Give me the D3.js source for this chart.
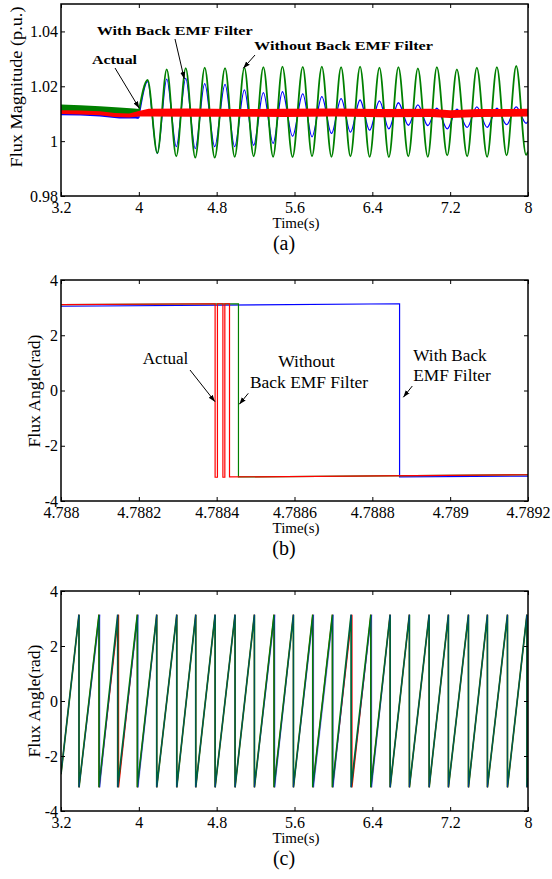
<!DOCTYPE html>
<html>
<head>
<meta charset="utf-8">
<script src="https://cdn.jsdelivr.net/npm/d3@7/dist/d3.min.js"></script>
<style>
  body { margin: 0; background: #fff; }
  svg text { font-family: "Liberation Serif", "Times New Roman", serif; fill: #000; }
</style>
</head>
<body>
<svg id="chart" width="552" height="879"></svg>
<script>
// ---- panel (a): flux magnitude ----
var timeTicks = [3.2, 4, 4.8, 5.6, 6.4, 7.2, 8];
var timeLabels = ["3.2", "4", "4.8", "5.6", "6.4", "7.2", "8"];
var magTicks = [0.98, 1, 1.02, 1.04];
var magLabels = ["0.98", "1", "1.02", "1.04"];

var peakTimes = [4.09, 4.287, 4.482, 4.677, 4.886, 5.085, 5.28, 5.476, 5.685, 5.881,
                 6.079, 6.274, 6.473, 6.668, 6.868, 7.063, 7.269, 7.474, 7.68, 7.879];
var troughTimes = [4.19, 4.385, 4.58, 4.78, 4.985, 5.18, 5.38, 5.58, 5.78, 5.98,
                   6.175, 6.372, 6.57, 6.77, 6.97, 7.17, 7.375, 7.58, 7.78, 7.98];
var greenPeaks = [1.0223, 1.0262, 1.0266, 1.0268, 1.0266, 1.0268, 1.027, 1.0272, 1.0271, 1.0272,
                  1.027, 1.0272, 1.0268, 1.027, 1.0265, 1.027, 1.0262, 1.0268, 1.027, 1.0274];
var greenTroughs = [0.9956, 0.9945, 0.994, 0.994, 0.9943, 0.9945, 0.9943, 0.9942, 0.9945, 0.9943,
                    0.9945, 0.9943, 0.9942, 0.9945, 0.9943, 0.9948, 0.9945, 0.9943, 0.9948, 0.995];
var bluePeaks = [1.0217, 1.0226, 1.0229, 1.021, 1.0207, 1.0187, 1.0177, 1.018, 1.0172, 1.0162,
                 1.0155, 1.015, 1.0147, 1.014, 1.0132, 1.012, 1.0117, 1.0125, 1.012, 1.0125];
var blueTroughs = [0.9955, 0.998, 0.9973, 0.998, 0.998, 0.9985, 0.9992, 1.0018, 1.0016, 1.0028,
                   1.0033, 1.004, 1.0045, 1.0058, 1.0057, 1.0045, 1.005, 1.005, 1.006, 1.0065];

// before the step at t = 4 s
var preTimes = [3.2, 3.4, 3.6, 3.8, 3.95, 4.0];
var greenPreHi = [1.0134, 1.0131, 1.0127, 1.0123, 1.0119, 1.0117];
var greenPreLo = [1.0106, 1.0104, 1.0101, 1.0099, 1.0097, 1.0099];
var bluePre = [1.0099, 1.0098, 1.0094, 1.0087, 1.0088, 1.0085];

// red (actual) noisy band
var redTimes = [3.2, 3.4, 3.6, 3.75, 3.9, 4.0, 4.1, 4.5, 5, 5.5, 6, 6.5, 7, 7.2, 7.5, 8];
var redHi = [1.0113, 1.0112, 1.0109, 1.0103, 1.0101, 1.011, 1.0118, 1.0119, 1.0117, 1.0118, 1.0119, 1.0117, 1.0118, 1.0113, 1.0117, 1.0118];
var redLo = [1.0099, 1.0097, 1.0094, 1.0088, 1.0086, 1.009, 1.009, 1.0089, 1.0089, 1.0088, 1.009, 1.0087, 1.0088, 1.0084, 1.0088, 1.009];

// ---- panel (b): zoom on one wrap ----
var zoomTicks = [4.788, 4.7882, 4.7884, 4.7886, 4.7888, 4.789, 4.7892];
var zoomLabels = ["4.788", "4.7882", "4.7884", "4.7886", "4.7888", "4.789", "4.7892"];
var angleTicks = [-4, -2, 0, 2, 4];
var angleLabels = ["-4", "-2", "0", "2", "4"];

var redZoomT = [4.788, 4.788396, 4.788396, 4.788402, 4.788402, 4.788416, 4.788416, 4.788421, 4.788421, 4.788433, 4.788433, 4.7892];
var redZoomV = [3.11, 3.14, -3.14, -3.14, 3.14, 3.14, -3.14, -3.14, 3.14, 3.14, -3.13, -3.05];
var greenZoomT = [4.788, 4.788456, 4.788456, 4.7892];
var greenZoomV = [3.11, 3.14, -3.13, -3.05];
var blueZoomT = [4.788, 4.78887, 4.78887, 4.7892];
var blueZoomV = [3.05, 3.14, -3.13, -3.1];

// ---- panel (c): wrapped angle ----
var greenWraps = [3.385, 3.591, 3.783, 3.985, 4.184, 4.39, 4.585, 4.784, 4.989, 5.188, 5.39, 5.589,
                  5.788, 5.99, 6.182, 6.385, 6.583, 6.781, 6.984, 7.182, 7.388, 7.583, 7.789, 7.989];
var blueWraps = [3.385, 3.6, 3.783, 3.994, 4.184, 4.39, 4.585, 4.784, 4.989, 5.188, 5.399, 5.589,
                 5.797, 5.999, 6.182, 6.394, 6.583, 6.781, 6.984, 7.182, 7.388, 7.583, 7.789, 7.989];
var redWraps = [3.385, 3.591, 3.792, 3.985, 4.184, 4.39, 4.585, 4.784, 4.989, 5.188, 5.39, 5.589,
                5.788, 5.99, 6.191, 6.385, 6.583, 6.781, 6.984, 7.182, 7.388, 7.583, 7.789, 7.989];
var angleStart = -2.66, angleEnd = -2.8, angleMax = 3.14;

var RED = "#ff0000", GREEN = "#008000", BLUE = "#0000ff";

var svg = d3.select("#chart");
svg.append("rect").attr("width", 552).attr("height", 879).attr("fill", "#fff");

var defs = svg.append("defs");
defs.append("marker").attr("id", "arr")
  .attr("viewBox", "0 0 10 10").attr("refX", 10).attr("refY", 5)
  .attr("markerWidth", 7).attr("markerHeight", 7).attr("orient", "auto")
  .append("path").attr("d", "M0,1.5L10,5L0,8.5Z").attr("fill", "#000");

function zip(a, b) { return a.map(function(d, i) { return [d, b[i]]; }); }

function wrapSeries(wraps, start, end) {
  var pts = [[3.2, start]];
  wraps.forEach(function(w) { pts.push([w, angleMax], [w, -angleMax]); });
  pts.push([8, end]);
  return pts;
}

function oscSeries(startV, peaks, troughs, endV) {
  var pts = [[4.0, startV]];
  peakTimes.forEach(function(t, i) {
    pts.push([t, peaks[i]]);
    pts.push([troughTimes[i], troughs[i]]);
  });
  pts.push([8, endV]);
  return pts;
}

function panel(opt) {
  var x = d3.scaleLinear().domain(opt.xDomain).range([61, 528]);
  var y = d3.scaleLinear().domain(opt.yDomain).range([opt.bottom, opt.top]);
  var g = svg.append("g");
  var id = "clip" + opt.name;
  defs.append("clipPath").attr("id", id).append("rect")
    .attr("x", 61).attr("y", opt.top).attr("width", 467).attr("height", opt.bottom - opt.top);
  var plot = g.append("g").attr("clip-path", "url(#" + id + ")");

  function style(sel) {
    sel.select(".domain").remove();
    sel.selectAll(".tick line").attr("stroke", "#000").attr("stroke-width", 1);
    sel.selectAll(".tick text").attr("font-size", 16).attr("fill", "#000");
  }
  g.append("g").attr("transform", "translate(0," + opt.bottom + ")")
    .call(d3.axisBottom(x).tickValues(opt.xTicks).tickFormat(function(d, i) { return opt.xLabels[i]; })
      .tickSizeInner(-4).tickSizeOuter(0).tickPadding(6)).call(style);
  g.append("g").attr("transform", "translate(0," + opt.top + ")")
    .call(d3.axisTop(x).tickValues(opt.xTicks).tickFormat("").tickSizeInner(-4).tickSizeOuter(0)).call(style);
  g.append("g").attr("transform", "translate(61,0)")
    .call(d3.axisLeft(y).tickValues(opt.yTicks).tickFormat(function(d, i) { return opt.yLabels[i]; })
      .tickSizeInner(-4).tickSizeOuter(0).tickPadding(3)).call(style);
  g.append("g").attr("transform", "translate(528,0)")
    .call(d3.axisRight(y).tickValues(opt.yTicks).tickFormat("").tickSizeInner(-4).tickSizeOuter(0)).call(style);

  g.append("rect").attr("x", 61).attr("y", opt.top).attr("width", 467).attr("height", opt.bottom - opt.top)
    .attr("fill", "none").attr("stroke", "#000").attr("stroke-width", 1.5);

  g.append("text").attr("x", 296).attr("y", opt.bottom + 32).attr("text-anchor", "middle")
    .attr("font-size", 15).text("Time(s)");
  g.append("text").attr("x", 284).attr("y", opt.bottom + 54).attr("text-anchor", "middle")
    .attr("font-size", 20).text(opt.caption);
  g.append("text").attr("transform", "translate(" + opt.yLabelX + "," + opt.yLabelY + ") rotate(-90)")
    .attr("text-anchor", "middle").attr("font-size", 17)
    .attr("textLength", opt.yLabelLen).attr("lengthAdjust", "spacingAndGlyphs").text(opt.yLabel);
  return { x: x, y: y, g: g, plot: plot };
}

function note(g, x, y, str, size, len, bold) {
  g.append("text").attr("x", x).attr("y", y).attr("font-size", size)
    .attr("font-weight", bold ? "bold" : "normal")
    .attr("textLength", len).attr("lengthAdjust", "spacingAndGlyphs").text(str);
}
function arrow(g, x1, y1, x2, y2) {
  g.append("line").attr("x1", x1).attr("y1", y1).attr("x2", x2).attr("y2", y2)
    .attr("stroke", "#000").attr("stroke-width", 1).attr("marker-end", "url(#arr)");
}

// ---------- (a) ----------
var A = panel({ name: "a", top: 4, bottom: 196, xDomain: [3.2, 8], yDomain: [0.98, 1.05],
  xTicks: timeTicks, xLabels: timeLabels, yTicks: magTicks, yLabels: magLabels,
  yLabel: "Flux Magnitude (p.u.)", yLabelX: 22, yLabelY: 87, yLabelLen: 161, caption: "(a)" });

var bandA = d3.area().x(function(d) { return A.x(d[0]); })
  .y0(function(d) { return A.y(d[1]); }).y1(function(d) { return A.y(d[2]); });
var lineA = d3.line().x(function(d) { return A.x(d[0]); }).y(function(d) { return A.y(d[1]); });

A.plot.append("path")
  .datum(preTimes.map(function(t, i) { return [t, greenPreLo[i], greenPreHi[i]]; }))
  .attr("d", bandA).attr("fill", GREEN);
A.plot.append("path").datum(zip(preTimes, bluePre))
  .attr("d", lineA).attr("fill", "none").attr("stroke", BLUE).attr("stroke-width", 2.5);
A.plot.append("path").datum(oscSeries(1.0085, bluePeaks, blueTroughs, 1.0072))
  .attr("d", lineA.curve(d3.curveMonotoneX)).attr("fill", "none").attr("stroke", BLUE).attr("stroke-width", 1.3);
A.plot.append("path").datum(oscSeries(1.0108, greenPeaks, greenTroughs, 0.9962))
  .attr("d", lineA.curve(d3.curveMonotoneX)).attr("fill", "none").attr("stroke", GREEN).attr("stroke-width", 1.8);
A.plot.append("path")
  .datum(redTimes.map(function(t, i) { return [t, redLo[i], redHi[i]]; }))
  .attr("d", bandA).attr("fill", RED);

note(A.g, 96.7, 35, "With Back EMF Filter", 13.5, 156, true);
note(A.g, 254, 50, "Without Back EMF Filter", 13.5, 179, true);
note(A.g, 92, 64, "Actual", 13.5, 45, true);
arrow(A.g, 115, 68, 139.3, 108.3);
arrow(A.g, 175, 39, 184.3, 79);
arrow(A.g, 255, 55, 243.3, 68.3);

// ---------- (b) ----------
var B = panel({ name: "b", top: 280, bottom: 501, xDomain: [4.788, 4.7892], yDomain: [-4, 4],
  xTicks: zoomTicks, xLabels: zoomLabels, yTicks: angleTicks, yLabels: angleLabels,
  yLabel: "Flux Angle(rad)", yLabelX: 40, yLabelY: 391, yLabelLen: 113, caption: "(b)" });
var lineB = d3.line().x(function(d) { return B.x(d[0]); }).y(function(d) { return B.y(d[1]); });
B.plot.append("path").datum(zip(blueZoomT, blueZoomV)).attr("d", lineB)
  .attr("fill", "none").attr("stroke", BLUE).attr("stroke-width", 1.2);
B.plot.append("path").datum(zip(greenZoomT, greenZoomV)).attr("d", lineB)
  .attr("fill", "none").attr("stroke", GREEN).attr("stroke-width", 1.2);
B.plot.append("path").datum(zip(redZoomT, redZoomV)).attr("d", lineB)
  .attr("fill", "none").attr("stroke", RED).attr("stroke-width", 1.2);

note(B.g, 142.7, 364, "Actual", 17, 45.6, false);
note(B.g, 278.3, 367.3, "Without", 17, 56.7, false);
note(B.g, 250, 387.7, "Back EMF Filter", 17, 118, false);
note(B.g, 413.3, 360.7, "With Back", 17, 73.4, false);
note(B.g, 413.3, 380.7, "EMF Filter", 17, 77.4, false);
arrow(B.g, 190, 370, 215, 401.7);
arrow(B.g, 248.3, 393.3, 239.3, 404.3);
arrow(B.g, 412.3, 386, 403.3, 397.3);

// ---------- (c) ----------
var C = panel({ name: "c", top: 591, bottom: 811, xDomain: [3.2, 8], yDomain: [-4, 4],
  xTicks: timeTicks, xLabels: timeLabels, yTicks: angleTicks, yLabels: angleLabels,
  yLabel: "Flux Angle(rad)", yLabelX: 40, yLabelY: 701, yLabelLen: 113, caption: "(c)" });
var lineC = d3.line().x(function(d) { return C.x(d[0]); }).y(function(d) { return C.y(d[1]); });
C.plot.append("path").datum(wrapSeries(redWraps, angleStart, angleEnd)).attr("d", lineC)
  .attr("fill", "none").attr("stroke", RED).attr("stroke-width", 1.2);
C.plot.append("path").datum(wrapSeries(greenWraps, angleStart, angleEnd)).attr("d", lineC)
  .attr("fill", "none").attr("stroke", GREEN).attr("stroke-width", 1.7);
C.plot.append("path").datum(wrapSeries(blueWraps, angleStart, angleEnd)).attr("d", lineC)
  .attr("fill", "none").attr("stroke", BLUE).attr("stroke-width", 0.7).attr("stroke-opacity", 0.55);
</script>
</body>
</html>
